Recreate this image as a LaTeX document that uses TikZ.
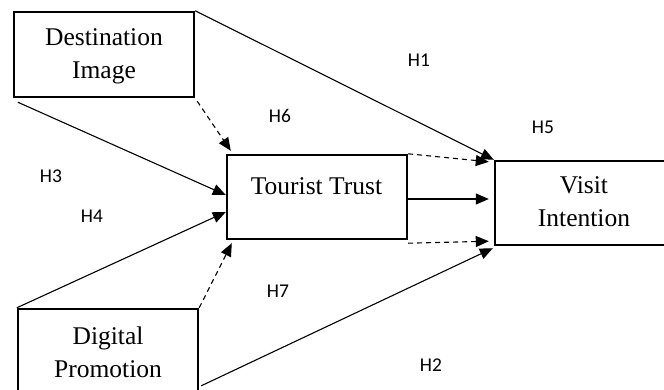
\documentclass[tikz,border=0pt]{standalone}
\usepackage{fontspec}
\setmainfont{Liberation Serif}
\newfontfamily\lblfont{Carlito}
\usetikzlibrary{arrows.meta,calc}
\begin{document}
\begin{tikzpicture}[x=1pt,y=-1pt,
  box/.style={draw,line width=2.4pt,inner sep=0pt,rectangle},
  txt/.style={inner sep=0pt,align=center,font=\fontsize{25.5}{33}\selectfont},
  hyp/.style={inner sep=0pt,font=\lblfont\fontsize{19.5}{22}\selectfont},
  conn/.style={line width=1.1pt,-{Triangle[length=13pt,width=11pt]}},
  dconn/.style={conn,dash pattern=on 5pt off 4pt}]
\useasboundingbox (0,0) rectangle (664,389);
% boxes
\node[box,minimum width=180pt,minimum height=85pt] (di) at (104,54.5) {};
\node[box,minimum width=180pt,minimum height=84pt] (tt) at (317,197) {};
\node[box,minimum width=180pt,minimum height=84pt] (vi) at (585,203) {};
\node[box,minimum width=180pt,minimum height=111pt] (dp) at (108,364.5) {};
% texts
\node[txt] (dit) at (104,56.7) {Destination\\Image};
\node[txt,anchor=base] (ttt) at (316.5,194) {Tourist Trust};
\node[txt] (vit) at (584,201.8) {Visit\\Intention};
\node[txt] (dpt) at (108,352.7) {Digital\\Promotion};
% connectors
\coordinate (ttr) at ($(tt.east)+(0,2)$);
\draw[conn] (di.north east) -- (vi.north west);
\draw[conn] ($(di.south west)+(5,4)$) -- ($(tt.west)+(0,-2)$);
\draw[conn] (dp.north west) -- ($(tt.west)+(0,15)$);
\draw[dconn] ($(di.south east)+(2,3)$) -- ($(tt.north west)+(5,-3)$);
\draw[dconn] (dp.north east) -- ($(tt.south west)+(6,3)$);
\draw[conn,shorten >=5pt] (ttr) -- (ttr -| vi.west);
\draw[dconn] (tt.north east) -- ($(vi.north west)+(-5,2)$);
\draw[dconn] ($(tt.south east)+(0,3)$) -- ($(vi.south west)+(-5,-5)$);
\coordinate (dpout) at ($(dp.north east)+(2,78)$);
\draw[conn] (dpout) -- ($(vi.south west)+(-1,2)$);
% hypothesis labels
\node[hyp] (h1) at (419,60) {H1};
\node[hyp] (h6) at (280,116) {H6};
\node[hyp] (h5) at (543,127) {H5};
\node[hyp] (h3) at (51,176) {H3};
\node[hyp] (h4) at (92,216) {H4};
\node[hyp] (h7) at (278,291) {H7};
\node[hyp] (h2) at (431,365) {H2};
\end{tikzpicture}
\end{document}
